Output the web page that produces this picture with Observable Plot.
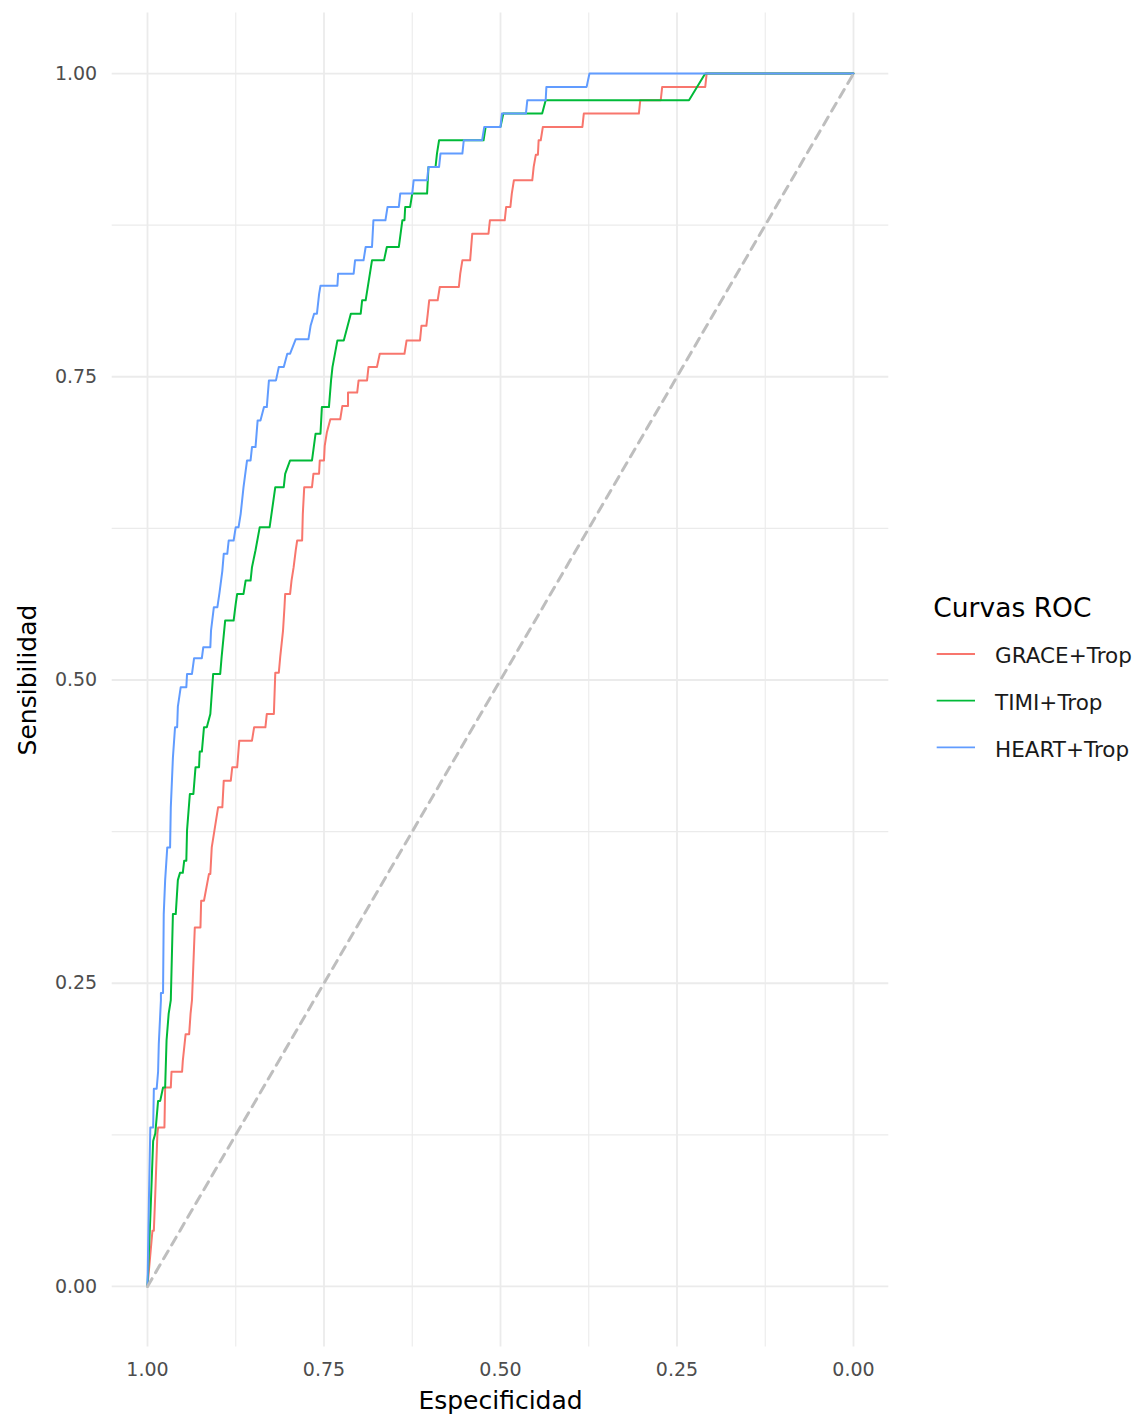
<!DOCTYPE html>
<html>
<head>
<meta charset="utf-8">
<script src="https://cdn.jsdelivr.net/npm/d3@7"></script>
<script src="https://cdn.jsdelivr.net/npm/@observablehq/plot@0.6"></script>
<style>
  html, body { margin: 0; padding: 0; background: #ffffff; }
  #wrap { position: relative; width: 1146px; height: 1421px; font-family: "DejaVu Sans", sans-serif; }
</style>
</head>
<body>
<div id="wrap"></div>
<script>
// ---- data (specificity, sensitivity) vertices of each ROC curve ----
const seriesNames = ["GRACE+Trop", "TIMI+Trop", "HEART+Trop"];
const seriesColors = ["#F8766D", "#00BA38", "#619CFF"];

const gracePoints = [[1.000,0.000],[0.993,0.046],[0.991,0.046],[0.989,0.076],[0.986,0.126],[0.985,0.131],[0.976,0.131],[0.975,0.164],[0.967,0.164],[0.966,0.177],[0.951,0.177],[0.950,0.186],[0.946,0.208],[0.941,0.208],[0.939,0.225],[0.937,0.236],[0.933,0.296],[0.925,0.296],[0.924,0.318],[0.920,0.318],[0.913,0.340],[0.911,0.340],[0.909,0.362],[0.900,0.395],[0.894,0.395],[0.892,0.417],[0.882,0.417],[0.880,0.428],[0.873,0.428],[0.870,0.450],[0.852,0.450],[0.849,0.461],[0.833,0.461],[0.831,0.472],[0.821,0.472],[0.819,0.506],[0.814,0.506],[0.812,0.519],[0.808,0.541],[0.806,0.560],[0.805,0.571],[0.798,0.571],[0.796,0.582],[0.793,0.593],[0.790,0.607],[0.788,0.615],[0.781,0.615],[0.780,0.637],[0.778,0.659],[0.767,0.659],[0.765,0.670],[0.757,0.670],[0.756,0.681],[0.750,0.681],[0.749,0.693],[0.746,0.704],[0.741,0.715],[0.727,0.715],[0.724,0.726],[0.716,0.726],[0.716,0.737],[0.703,0.737],[0.701,0.747],[0.689,0.747],[0.687,0.758],[0.675,0.758],[0.671,0.769],[0.636,0.769],[0.633,0.780],[0.614,0.780],[0.612,0.792],[0.605,0.792],[0.603,0.802],[0.601,0.813],[0.589,0.813],[0.586,0.824],[0.559,0.824],[0.557,0.835],[0.554,0.846],[0.543,0.846],[0.540,0.868],[0.517,0.868],[0.515,0.879],[0.494,0.879],[0.492,0.890],[0.486,0.890],[0.484,0.901],[0.481,0.912],[0.455,0.912],[0.453,0.923],[0.450,0.933],[0.447,0.933],[0.446,0.945],[0.443,0.945],[0.440,0.956],[0.384,0.956],[0.382,0.967],[0.304,0.967],[0.302,0.978],[0.273,0.978],[0.271,0.989],[0.210,0.989],[0.208,1.000],[0.000,1.000]];

const timiPoints = [[1.000,0.000],[0.996,0.057],[0.992,0.120],[0.989,0.126],[0.985,0.153],[0.982,0.153],[0.978,0.164],[0.975,0.164],[0.973,0.203],[0.970,0.225],[0.967,0.236],[0.964,0.307],[0.960,0.307],[0.957,0.335],[0.954,0.341],[0.950,0.341],[0.948,0.351],[0.945,0.351],[0.944,0.376],[0.940,0.406],[0.935,0.406],[0.932,0.428],[0.927,0.428],[0.926,0.441],[0.923,0.441],[0.920,0.461],[0.916,0.461],[0.911,0.472],[0.907,0.505],[0.897,0.505],[0.895,0.519],[0.890,0.549],[0.878,0.549],[0.875,0.563],[0.873,0.571],[0.864,0.571],[0.861,0.582],[0.854,0.582],[0.852,0.593],[0.847,0.607],[0.841,0.626],[0.827,0.626],[0.819,0.659],[0.807,0.659],[0.805,0.670],[0.798,0.681],[0.767,0.681],[0.762,0.703],[0.755,0.703],[0.753,0.725],[0.743,0.725],[0.740,0.747],[0.738,0.758],[0.731,0.780],[0.722,0.780],[0.712,0.802],[0.698,0.802],[0.696,0.813],[0.691,0.813],[0.682,0.846],[0.665,0.846],[0.661,0.857],[0.644,0.857],[0.639,0.879],[0.636,0.879],[0.635,0.890],[0.628,0.890],[0.625,0.901],[0.604,0.901],[0.602,0.923],[0.592,0.923],[0.590,0.934],[0.587,0.945],[0.524,0.945],[0.521,0.956],[0.500,0.956],[0.496,0.967],[0.441,0.967],[0.436,0.978],[0.233,0.978],[0.210,1.000],[0.000,1.000]];

const heartPoints = [[1.000,0.000],[0.998,0.071],[0.996,0.131],[0.992,0.131],[0.991,0.163],[0.987,0.163],[0.985,0.177],[0.984,0.200],[0.981,0.236],[0.981,0.242],[0.978,0.242],[0.977,0.307],[0.975,0.335],[0.972,0.362],[0.968,0.362],[0.967,0.395],[0.964,0.436],[0.961,0.461],[0.958,0.461],[0.957,0.478],[0.953,0.494],[0.945,0.494],[0.944,0.505],[0.937,0.505],[0.934,0.518],[0.923,0.518],[0.921,0.527],[0.911,0.527],[0.910,0.541],[0.906,0.560],[0.901,0.560],[0.898,0.572],[0.894,0.590],[0.892,0.604],[0.887,0.604],[0.885,0.615],[0.878,0.615],[0.875,0.626],[0.871,0.626],[0.868,0.637],[0.864,0.659],[0.859,0.681],[0.854,0.681],[0.852,0.692],[0.847,0.692],[0.844,0.714],[0.840,0.714],[0.835,0.725],[0.831,0.725],[0.828,0.747],[0.818,0.747],[0.814,0.758],[0.807,0.758],[0.802,0.769],[0.798,0.769],[0.790,0.781],[0.772,0.781],[0.769,0.792],[0.764,0.802],[0.760,0.802],[0.757,0.818],[0.755,0.825],[0.731,0.825],[0.730,0.835],[0.708,0.835],[0.706,0.846],[0.694,0.846],[0.691,0.857],[0.682,0.857],[0.680,0.879],[0.663,0.879],[0.660,0.890],[0.644,0.890],[0.642,0.901],[0.625,0.901],[0.623,0.912],[0.604,0.912],[0.602,0.923],[0.587,0.923],[0.585,0.934],[0.554,0.934],[0.552,0.945],[0.526,0.945],[0.523,0.956],[0.500,0.956],[0.498,0.967],[0.464,0.967],[0.462,0.978],[0.436,0.978],[0.435,0.989],[0.378,0.989],[0.374,1.000],[0.000,1.000]];

const chanceSpec = [1, 0];
const chanceSens = [0, 1];

const majorTicks = [0, 0.25, 0.5, 0.75, 1];
const minorTicks = [0.125, 0.375, 0.625, 0.875];

const xTitle = "Especificidad";
const yTitle = "Sensibilidad";
const legendTitle = "Curvas ROC";

// ---- build tables ----
const curveSets = [gracePoints, timiPoints, heartPoints];
const rows = [];
curveSets.forEach((pts, i) => {
  pts.forEach(([spec, sens]) => rows.push({spec, sens, series: seriesNames[i]}));
});
const chance = chanceSpec.map((s, i) => ({spec: s, sens: chanceSens[i]}));

const gridColor = "#EBEBEB";

const chart = Plot.plot({
  width: 1146,
  height: 1421,
  marginLeft: 111.7,
  marginRight: 257.7,
  marginTop: 12.4,
  marginBottom: 74.4,
  style: {fontFamily: "DejaVu Sans, sans-serif", background: "#ffffff"},
  x: {domain: [1.05, -0.05]},
  y: {domain: [-0.05, 1.05]},
  color: {domain: seriesNames, range: seriesColors},
  marks: [
    Plot.gridX(minorTicks, {stroke: gridColor, strokeOpacity: 1, strokeWidth: 1.1}),
    Plot.gridY(minorTicks, {stroke: gridColor, strokeOpacity: 1, strokeWidth: 1.1}),
    Plot.gridX(majorTicks, {stroke: gridColor, strokeOpacity: 1, strokeWidth: 1.8}),
    Plot.gridY(majorTicks, {stroke: gridColor, strokeOpacity: 1, strokeWidth: 1.8}),
    Plot.axisX(majorTicks, {tickSize: 0, tickPadding: 15, tickFormat: d3.format(".2f"), fontSize: 19, color: "#4D4D4D", label: null}),
    Plot.axisY(majorTicks, {tickSize: 0, tickPadding: 15, tickFormat: d3.format(".2f"), fontSize: 19, color: "#4D4D4D", label: null}),
    Plot.line(rows, {x: "spec", y: "sens", z: "series", stroke: "series", strokeWidth: 2, curve: "linear"}),
    Plot.line(chance, {x: "spec", y: "sens", stroke: "#BEBEBE", strokeWidth: 3, strokeDasharray: "9,7"}),
    Plot.text([xTitle], {text: d => d, frameAnchor: "bottom", textAnchor: "middle", lineAnchor: "middle", dy: 54, fontSize: 25, fill: "#000000"}),
    Plot.text([yTitle], {text: d => d, frameAnchor: "left", textAnchor: "middle", lineAnchor: "middle", dx: -84, rotate: -90, fontSize: 25, fill: "#000000"})
  ]
});

const wrap = document.getElementById("wrap");
wrap.appendChild(chart);

// ---- legend (right side) ----
const leg = d3.create("svg")
  .attr("width", 226)
  .attr("height", 200)
  .style("position", "absolute")
  .style("left", "920px")
  .style("top", "580px")
  .style("font-family", "DejaVu Sans, sans-serif");

leg.append("text")
  .attr("x", 13.3)
  .attr("y", 36.7)
  .attr("font-size", 26.5)
  .attr("fill", "#000000")
  .text(legendTitle);

seriesNames.forEach((name, i) => {
  const cy = 74 + 46.7 * i;
  leg.append("line")
    .attr("x1", 16.7).attr("x2", 55)
    .attr("y1", cy).attr("y2", cy)
    .attr("stroke", seriesColors[i])
    .attr("stroke-width", 1.8);
  leg.append("text")
    .attr("x", 75)
    .attr("y", cy + 9.3)
    .attr("font-size", 21.5)
    .attr("fill", "#1A1A1A")
    .text(name);
});

wrap.appendChild(leg.node());
</script>
</body>
</html>
